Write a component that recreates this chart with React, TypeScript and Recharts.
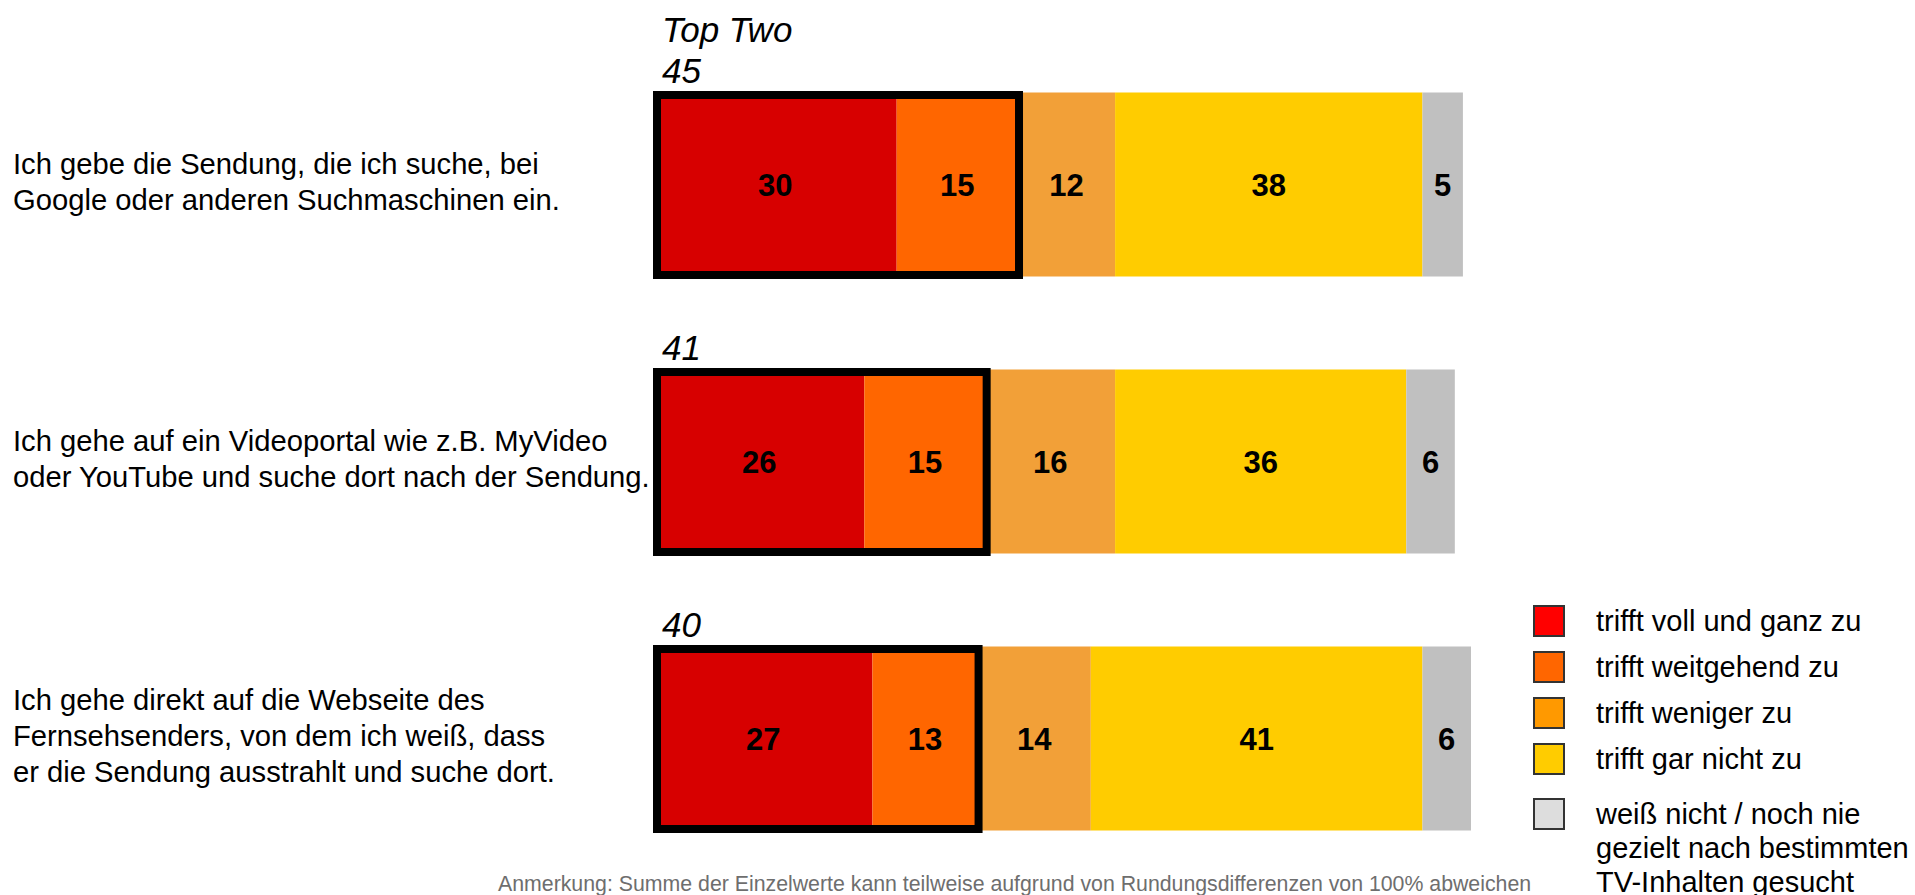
import React from 'react';
import { BarChart, Bar, XAxis, YAxis, LabelList, Legend } from 'recharts';

// Aussagen (Zeilenumbrüche wie im Original)
const categories = [
  'Ich gebe die Sendung, die ich suche, bei\nGoogle oder anderen Suchmaschinen ein.',
  'Ich gehe auf ein Videoportal wie z.B. MyVideo\noder YouTube und suche dort nach der Sendung.',
  'Ich gehe direkt auf die Webseite des\nFernsehsenders, von dem ich weiß, dass\ner die Sendung ausstrahlt und suche dort.',
];

// Werte in Prozent
const vollUndGanz = [30, 26, 27];
const weitgehend = [15, 15, 13];
const weniger = [12, 16, 14];
const garNicht = [38, 36, 41];
const weissNicht = [5, 6, 6];
const topTwo = [45, 41, 40];

const seriesNames = [
  'trifft voll und ganz zu',
  'trifft weitgehend zu',
  'trifft weniger zu',
  'trifft gar nicht zu',
  'weiß nicht / noch nie\ngezielt nach bestimmten\nTV-Inhalten gesucht',
];

const barColors = ['#d70000', '#ff6600', '#f2a038', '#ffcc00', '#c0c0c0'];
const legendColors = ['#ff0000', '#ff6600', '#ff9900', '#ffcc00', '#dddddd'];

const footnote =
  'Anmerkung: Summe der Einzelwerte kann teilweise aufgrund von Rundungsdifferenzen von 100% abweichen';

const data = categories.map((name, i) => ({
  name,
  voll: vollUndGanz[i],
  weit: weitgehend[i],
  weniger: weniger[i],
  gar: garNicht[i],
  weiss: weissNicht[i],
  top: topTwo[i],
}));

const FONT = '"Liberation Sans", Arial, Helvetica, sans-serif';

const CategoryTick = (props: any) => {
  const { y, payload } = props;
  const lines = String(payload.value).split('\n');
  const lh = 36;
  const first = y - ((lines.length - 1) * lh) / 2 - 2;
  return (
    <text x={13} y={first} fontSize={29.2} fill="#000" textAnchor="start">
      {lines.map((l, i) => (
        <tspan key={i} x={13} y={first + i * lh + 10}>
          {l}
        </tspan>
      ))}
    </text>
  );
};

// letztes Segment: zeichnet zusätzlich den Top-Two-Rahmen und die Summe
const LastSegment = (props: any) => {
  const { x, y, width, height, fill, payload, index } = props;
  const unit = width / payload.weiss;
  const start = x - (payload.voll + payload.weit + payload.weniger + payload.gar) * unit;
  const frameW = payload.top * unit;
  return (
    <g>
      <rect x={x} y={y} width={width} height={height} fill={fill} />
      <rect
        x={start + 3}
        y={y + 2.5}
        width={frameW - 2}
        height={height - 4}
        fill="none"
        stroke="#000"
        strokeWidth={8}
      />
      {index === 0 && (
        <text x={start + 8} y={y - 51} fontSize={35} fontStyle="italic" fill="#000">
          Top Two
        </text>
      )}
      <text x={start + 8} y={y - 10} fontSize={35} fontStyle="italic" fill="#000">
        {payload.top}
      </text>
    </g>
  );
};

const LegendContent = () => (
  <div style={{ fontSize: 29, color: '#000', fontFamily: FONT, whiteSpace: 'nowrap' }}>
    {seriesNames.map((name, i) => (
      <div
        key={name}
        style={{
          display: 'flex',
          alignItems: 'flex-start',
          marginTop: i === 0 ? 0 : i === 4 ? 22 : 13,
        }}
      >
        <span
          style={{
            width: 28,
            height: 28,
            background: legendColors[i],
            border: '2px solid #333',
            flex: 'none',
          }}
        />
        <span style={{ marginLeft: 31, lineHeight: '34px', marginTop: -1 }}>
          {name.split('\n').map((l) => (
            <div key={l}>{l}</div>
          ))}
        </span>
      </div>
    ))}
  </div>
);

const labelStyle = { fill: '#000', fontSize: 31, fontWeight: 'bold' as const };

export default function App() {
  return (
    <div
      style={{
        position: 'absolute',
        left: 0,
        top: 0,
        width: 1915,
        height: 895,
        background: '#fff',
        fontFamily: FONT,
      }}
    >
      <BarChart
        width={1915}
        height={895}
        data={data}
        layout="vertical"
        margin={{ top: 45.5, right: 444, bottom: 18.5, left: 0 }}
        barSize={184}
      >
        <XAxis type="number" domain={[0, 100]} hide />
        <YAxis
          type="category"
          dataKey="name"
          width={654}
          axisLine={false}
          tickLine={false}
          interval={0}
          tick={<CategoryTick />}
        />
        <Legend
          layout="horizontal"
          align="center"
          verticalAlign="middle"
          content={<LegendContent />}
          wrapperStyle={{ left: 1533, top: 605, width: 382 }}
        />
        <Bar dataKey="voll" name={seriesNames[0]} stackId="a" fill={barColors[0]} isAnimationActive={false}>
          <LabelList dataKey="voll" position="center" {...labelStyle} />
        </Bar>
        <Bar dataKey="weit" name={seriesNames[1]} stackId="a" fill={barColors[1]} isAnimationActive={false}>
          <LabelList dataKey="weit" position="center" {...labelStyle} />
        </Bar>
        <Bar dataKey="weniger" name={seriesNames[2]} stackId="a" fill={barColors[2]} isAnimationActive={false}>
          <LabelList dataKey="weniger" position="center" {...labelStyle} />
        </Bar>
        <Bar dataKey="gar" name={seriesNames[3]} stackId="a" fill={barColors[3]} isAnimationActive={false}>
          <LabelList dataKey="gar" position="center" {...labelStyle} />
        </Bar>
        <Bar
          dataKey="weiss"
          name={seriesNames[4]}
          stackId="a"
          fill={barColors[4]}
          isAnimationActive={false}
          shape={<LastSegment />}
        >
          <LabelList dataKey="weiss" position="center" {...labelStyle} />
        </Bar>
      </BarChart>
      <div
        style={{
          position: 'absolute',
          left: 498,
          top: 872,
          fontSize: 21.3,
          color: '#6e6e6e',
          whiteSpace: 'nowrap',
        }}
      >
        {footnote}
      </div>
    </div>
  );
}
